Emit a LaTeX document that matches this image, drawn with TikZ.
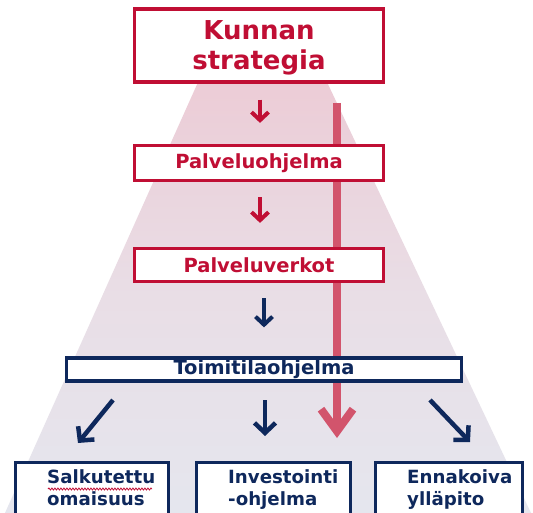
\documentclass[tikz,border=0pt]{standalone}
\usepackage{fontspec}
\setmainfont{DejaVu Sans}
\usetikzlibrary{arrows.meta,decorations.pathmorphing}
\definecolor{kred}{RGB}{192,14,52}
\definecolor{knavy}{RGB}{14,40,92}
\definecolor{kpink}{RGB}{210,84,108}
\definecolor{trtop}{RGB}{236,204,214}
\definecolor{trmid}{RGB}{233,222,230}
\definecolor{trbot}{RGB}{229,230,238}
\tikzset{
  redbox/.style={draw=kred, line width=3.2pt, fill=white, inner sep=0pt, text=kred,
    font=\bfseries\fontsize{19.5}{22}\selectfont, align=center},
  navybox/.style={draw=knavy, line width=3.2pt, fill=white, inner sep=0pt, text=knavy,
    font=\bfseries\fontsize{19.5}{22}\selectfont, align=center},
  blabel/.style={inner sep=0pt, text=knavy, font=\bfseries\fontsize{18.2}{22}\selectfont, align=left},
  redarrow/.style={draw=kred, line width=4pt, -{Straight Barb[length=8pt,width=17pt,line width=4pt]}},
  navyarrow/.style={draw=knavy, line width=4pt, -{Straight Barb[length=8pt,width=17pt,line width=4pt]}},
  bignavy/.style={draw=knavy, line width=4.5pt, -{Straight Barb[length=10pt,width=21pt,line width=4.5pt]}},
  bigarrow/.style={draw=kpink, line width=8pt, -{Straight Barb[length=22pt,width=32pt,line width=8pt]}},
}
\begin{document}
\begin{tikzpicture}[x=1pt,y=-1pt]
\clip (0,0) rectangle (533,513);
\useasboundingbox (0,0) rectangle (533,513);
\fill[white] (0,0) rectangle (533,513);
% trapezoid background
\shade[top color=trtop, bottom color=trbot, middle color=trmid]
  (199,80) -- (326,80) -- (531,513) -- (5,513) -- cycle;
% big pink arrow (behind the boxes)
\coordinate (bs) at (337,103); \coordinate (be) at (337,438);
\draw[bigarrow] (bs) -- (be);
% boxes
\node[redbox, minimum width=249pt, minimum height=73pt, font=\bfseries\fontsize{26}{30}\selectfont]
  (k) at (259,45.5) {\rule{0pt}{24pt}Kunnan\\strategia};
\node[redbox, minimum width=249pt, minimum height=35pt] (p1) at (259,163) {Palveluohjelma};
\node[redbox, minimum width=249pt, minimum height=33pt] (p2) at (259,265) {Palveluverkot};
\node[navybox, minimum width=395pt, minimum height=23pt] (t) at (264,369.5) {Toimitilaohjelma};
\node[navybox, anchor=north west, minimum width=153pt, minimum height=80pt] (b1) at (13.5,460.5) {};
\node[navybox, anchor=north west, minimum width=154pt, minimum height=80pt] (b2) at (194.5,460.5) {};
\node[navybox, anchor=north west, minimum width=147pt, minimum height=80pt] (b3) at (373.5,460.5) {};
\node[blabel, anchor=north west] (l1) at (47,469.5) {Salkutettu\\omaisuus};
\node[blabel, anchor=north west] (l2) at (228,469.5) {Investointi\\-ohjelma};
\node[blabel, anchor=north west] (l3) at (407,469.5) {Ennakoiva\\ylläpito};
% spell-check underline
\coordinate (w1) at (48,489);
\coordinate (w2) at (152,489);
\draw[kred, line width=0.8pt, decorate, decoration={snake, amplitude=1pt, segment length=3pt}] (w1) -- (w2);
% small arrows
\draw[redarrow, shorten <=16pt, shorten >=21pt] ([xshift=1pt]k.south) -- ([xshift=1pt]p1.north);
\draw[redarrow, shorten <=15pt, shorten >=24pt] ([xshift=1pt]p1.south) -- ([xshift=1pt]p2.north);
\draw[navyarrow, shorten <=15pt, shorten >=29pt] (t.north |- p2.south) -- (t.north);
% bottom arrows
\coordinate (a1s) at (113,400); \coordinate (a1e) at (78,443);
\coordinate (a2s) at (265,400); \coordinate (a2e) at (265,436);
\coordinate (a3s) at (430,400); \coordinate (a3e) at (470,442);
\draw[bignavy] (a1s) -- (a1e);
\draw[bignavy] (a2s) -- (a2e);
\draw[bignavy] (a3s) -- (a3e);
\end{tikzpicture}
\end{document}
